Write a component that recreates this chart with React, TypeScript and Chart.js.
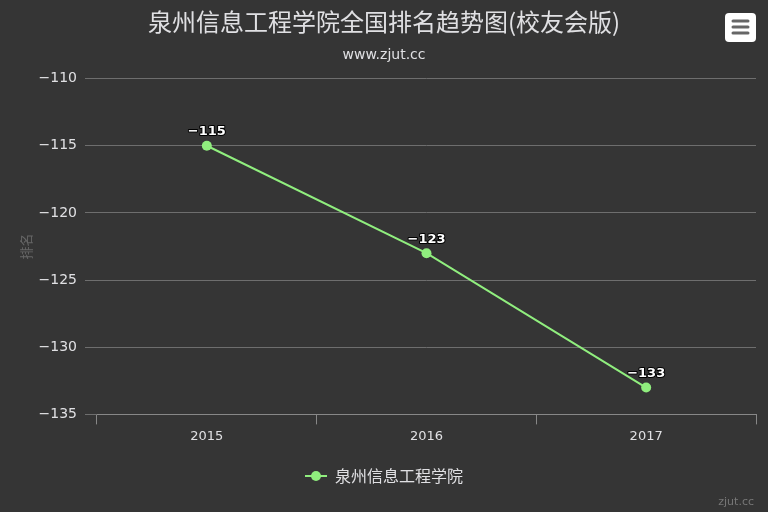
import React, { useEffect, useRef } from "react";
import { Chart, registerables } from "chart.js";

Chart.register(...registerables);

const years: string[] = ["2015", "2016", "2017"];
const ranks: number[] = [-115, -123, -133];
const seriesName = "泉州信息工程学院";
const titleText = "泉州信息工程学院全国排名趋势图(校友会版)";
const subtitleText = "www.zjut.cc";
const yTitle = "排名";
const creditText = "zjut.cc";

const BG = "#353535";
const TEXT = "#e0e0e3";
const GREEN = "#90ee7e";
const GRID = "#6e6e6e";
const CJK = '"Noto Sans CJK SC", "DejaVu Sans", sans-serif';
const SANS = '"DejaVu Sans", "Noto Sans CJK SC", sans-serif';

const fmt = (v: number | string) => String(v).replace("-", "\u2212");

function makeLegendSymbol(): HTMLCanvasElement {
  const c = document.createElement("canvas");
  c.width = 22;
  c.height = 12;
  const ctx = c.getContext("2d")!;
  ctx.strokeStyle = GREEN;
  ctx.lineWidth = 2;
  ctx.beginPath();
  ctx.moveTo(0, 6);
  ctx.lineTo(22, 6);
  ctx.stroke();
  ctx.fillStyle = GREEN;
  ctx.beginPath();
  ctx.arc(11, 6, 5, 0, Math.PI * 2);
  ctx.fill();
  return c;
}

const decorPlugin = {
  id: "decor",
  beforeDraw(chart: any) {
    const ctx = chart.ctx;
    ctx.save();
    ctx.fillStyle = BG;
    ctx.fillRect(0, 0, chart.width, chart.height);
    ctx.restore();
  },
  afterDraw(chart: any) {
    const ctx = chart.ctx;
    // data labels
    const meta = chart.getDatasetMeta(0);
    ctx.save();
    ctx.font = `bold 13px ${SANS}`;
    ctx.textAlign = "center";
    ctx.textBaseline = "middle";
    ctx.lineJoin = "round";
    meta.data.forEach((pt: any, i: number) => {
      const label = fmt(chart.data.datasets[0].data[i]);
      const x = pt.x;
      const y = pt.y - 14;
      ctx.strokeStyle = "#000";
      ctx.lineWidth = 2;
      ctx.strokeText(label, x, y);
      ctx.fillStyle = "#fff";
      ctx.fillText(label, x, y);
    });
    ctx.restore();

    // credits
    ctx.save();
    ctx.font = `11px ${SANS}`;
    ctx.fillStyle = "#777";
    ctx.textAlign = "right";
    ctx.textBaseline = "middle";
    ctx.fillText(creditText, chart.width - 14, chart.height - 10);
    ctx.restore();

    // export menu button
    ctx.save();
    const bx = chart.width - 43, by = 13, bw = 31, bh = 29, r = 4;
    ctx.fillStyle = "#ffffff";
    ctx.beginPath();
    ctx.moveTo(bx + r, by);
    ctx.lineTo(bx + bw - r, by);
    ctx.quadraticCurveTo(bx + bw, by, bx + bw, by + r);
    ctx.lineTo(bx + bw, by + bh - r);
    ctx.quadraticCurveTo(bx + bw, by + bh, bx + bw - r, by + bh);
    ctx.lineTo(bx + r, by + bh);
    ctx.quadraticCurveTo(bx, by + bh, bx, by + bh - r);
    ctx.lineTo(bx, by + r);
    ctx.quadraticCurveTo(bx, by, bx + r, by);
    ctx.closePath();
    ctx.fill();
    ctx.strokeStyle = "#666";
    ctx.lineWidth = 3;
    ctx.lineCap = "round";
    [21, 27, 33].forEach((yy) => {
      ctx.beginPath();
      ctx.moveTo(bx + 8, yy);
      ctx.lineTo(bx + bw - 8, yy);
      ctx.stroke();
    });
    ctx.restore();
  },
};

export default function App() {
  const ref = useRef<HTMLCanvasElement | null>(null);
  useEffect(() => {
    document.body.style.margin = "0";
    document.body.style.background = BG;
    const symbol = makeLegendSymbol();
    const chart = new Chart(ref.current!, {
      type: "line",
      data: {
        labels: years,
        datasets: [
          {
            label: seriesName,
            data: ranks,
            borderColor: GREEN,
            backgroundColor: GREEN,
            borderWidth: 2,
            pointRadius: 5,
            pointHoverRadius: 5,
            pointBackgroundColor: GREEN,
            pointBorderWidth: 0,
            pointStyle: "circle",
            tension: 0,
            yAxisID: "y",
          },
        ],
      },
      options: {
        animation: false,
        responsive: false,
        maintainAspectRatio: false,
        layout: { padding: { left: 0, right: 0, top: 0, bottom: 18 } },
        plugins: {
          tooltip: { enabled: false },
          title: {
            display: true,
            text: titleText,
            color: TEXT,
            font: { family: CJK, size: 24, weight: "normal" },
            padding: { top: 7, bottom: 11 },
          },
          subtitle: {
            display: true,
            text: subtitleText,
            color: TEXT,
            font: { family: SANS, size: 14, weight: "normal" },
            padding: { top: 0, bottom: 15 },
          },
          legend: {
            display: true,
            position: "bottom",
            labels: {
              color: TEXT,
              font: { family: CJK, size: 16 },
              usePointStyle: true,
              pointStyleWidth: 22,
              padding: 12,
              generateLabels: (c: any) =>
                c.data.datasets.map((ds: any, i: number) => ({
                  text: ds.label,
                  fillStyle: GREEN,
                  strokeStyle: GREEN,
                  fontColor: TEXT,
                  lineWidth: 0,
                  pointStyle: symbol,
                  hidden: false,
                  datasetIndex: i,
                })),
            },
          },
        },
        scales: {
          x: {
            type: "category",
            offset: true,
            afterFit: (scale: any) => {
              scale.height += 8;
            },
            grid: {
              display: true,
              drawOnChartArea: false,
              drawTicks: true,
              tickLength: 10,
              color: "#888",
              offset: true,
            },
            border: { display: true, color: "#888", width: 1 },
            ticks: {
              color: TEXT,
              font: { family: SANS, size: 13 },
              padding: 4,
            },
          },
          y: {
            type: "linear",
            position: "left",
            min: -135,
            max: -110,
            afterFit: (scale: any) => {
              scale.width = 97;
            },
            grid: {
              color: GRID,
              drawTicks: true,
              tickLength: 12,
            },
            border: { display: false },
            ticks: {
              stepSize: 5,
              color: TEXT,
              font: { family: SANS, size: 14 },
              padding: 8,
              callback: (v: any) => fmt(v),
            },
            title: {
              display: true,
              text: yTitle,
              color: "#666",
              font: { family: CJK, size: 13 },
              padding: { top: 18, bottom: 0 },
            },
          },
          yPad: {
            type: "linear",
            position: "right",
            display: true,
            afterFit: (scale: any) => {
              scale.width = 12;
            },
            grid: { display: false, drawTicks: false },
            border: { display: false },
            ticks: { display: false },
          },
        },
      },
      plugins: [decorPlugin],
    });
    return () => chart.destroy();
  }, []);
  return (
    <div style={{ position: "absolute", left: 0, top: 0, width: 768, height: 512, background: BG }}>
      <canvas ref={ref} width={768} height={512} style={{ width: 768, height: 512 }} />
    </div>
  );
}
